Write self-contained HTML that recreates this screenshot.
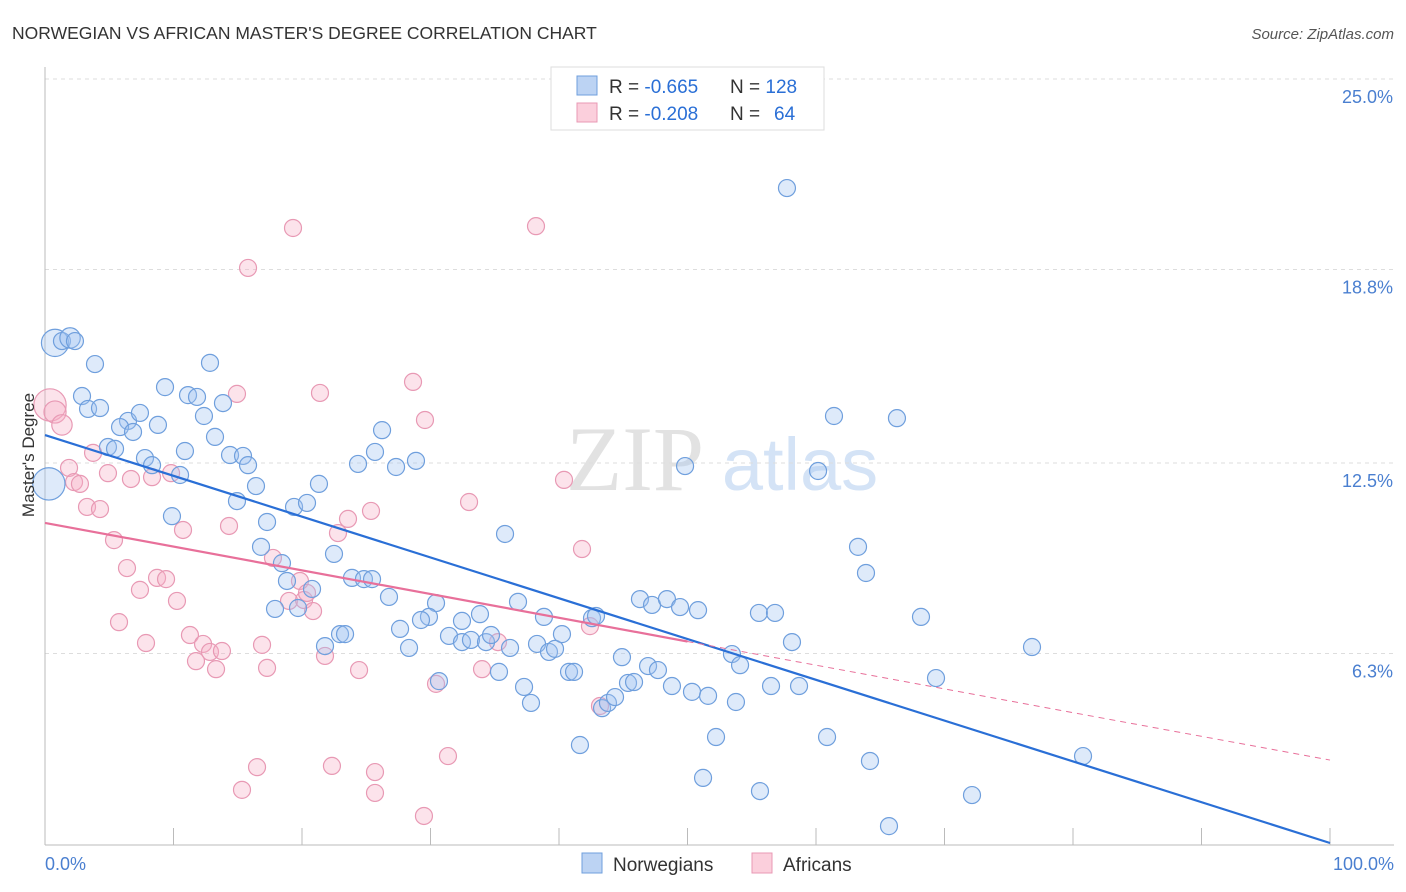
<!DOCTYPE html>
<html><head><meta charset="utf-8"><style>
body{margin:0;background:#fff;font-family:"Liberation Sans",sans-serif}
svg{display:block}
</style></head><body>
<svg id="c" width="1406" height="892" xmlns="http://www.w3.org/2000/svg">
<text x="12" y="39" font-size="17.5" fill="#333">NORWEGIAN VS AFRICAN MASTER'S DEGREE CORRELATION CHART</text>
<text x="1394" y="39" font-size="15" fill="#555" font-style="italic" text-anchor="end">Source: ZipAtlas.com</text>
<g>
<text x="635" y="490" font-size="92" fill="#e2e2e2" font-family="Liberation Serif,serif" text-anchor="middle">ZIP</text>
<text x="800" y="490" font-size="74" fill="#d4e3f6" text-anchor="middle">atlas</text>
</g>
<g id="grid"></g><g id="pts"></g><g id="lines"></g>
<text transform="translate(34,455) rotate(-90)" font-size="17" fill="#333" text-anchor="middle">Master's Degree</text>
<g>
<rect x="551" y="67" width="273" height="63" fill="#fff" stroke="#ddd"/>
<rect x="577" y="76" width="20" height="19" fill="#bcd3f3" stroke="#6f9fdd"/>
<rect x="577" y="103" width="20" height="19" fill="#fbcfdc" stroke="#e899b4"/>
<text x="609" y="93" font-size="19" fill="#333">R = <tspan fill="#2a6fd6">-0.665</tspan><tspan x="730">N = </tspan><tspan fill="#2a6fd6">128</tspan></text>
<text x="609" y="120" font-size="19" fill="#333">R = <tspan fill="#2a6fd6">-0.208</tspan><tspan x="730">N = </tspan><tspan x="774" fill="#2a6fd6">64</tspan></text>
</g>
<g>
<rect x="582" y="853" width="20" height="20" fill="#bcd3f3" stroke="#6f9fdd"/>
<text x="613" y="871" font-size="19" fill="#333">Norwegians</text>
<rect x="752" y="853" width="20" height="20" fill="#fbcfdc" stroke="#e899b4"/>
<text x="783" y="871" font-size="19" fill="#333">Africans</text>
</g>
<text x="45" y="870" font-size="18" fill="#4a7fd0">0.0%</text>
<text x="1394" y="870" font-size="18" fill="#4a7fd0" text-anchor="end">100.0%</text>
</svg>
<script>
const yTicks=[25.0,18.8,12.5,6.3];
const yTickLabels=["25.0%","18.8%","12.5%","6.3%"];
const xTicks=[0,10,20,30,40,50,60,70,80,90,100];
const blueX=[0.78,1.32,1.95,2.33,3.89,12.84,2.88,3.35,4.28,9.34,11.13,11.83,13.85,6.46,7.39,5.84,6.85,8.79,4.90,5.45,7.78,8.33,10.51,10.89,13.23,12.37,14.40,15.41,15.80,16.42,14.94,9.88,17.28,19.38,20.39,21.32,26.23,25.68,24.36,27.32,28.87,16.81,18.44,22.49,18.83,20.78,19.69,17.90,23.89,24.82,25.45,26.77,30.43,29.88,29.26,32.45,33.85,35.80,36.81,38.83,42.57,42.88,46.30,47.24,48.40,49.42,50.82,21.79,22.96,23.35,27.63,28.33,31.44,32.45,33.15,34.32,34.71,36.19,38.29,39.22,39.69,40.23,40.78,41.17,35.33,30.66,37.28,37.82,43.35,43.81,44.36,44.90,45.37,45.84,46.93,47.70,48.79,50.35,51.60,52.22,53.77,53.46,54.09,56.50,58.68,55.56,56.81,58.13,49.81,57.74,61.40,66.30,60.16,63.27,63.89,68.17,76.81,69.34,60.86,64.20,51.21,55.64,41.63,65.68,72.14,80.78,0.3];
const blueY=[16.41,16.47,16.57,16.47,15.72,15.76,14.68,14.26,14.29,14.97,14.71,14.65,14.45,13.87,14.13,13.67,13.51,13.74,13.02,12.96,12.66,12.43,12.11,12.89,13.35,14.03,12.76,12.73,12.43,11.75,11.26,10.77,10.58,11.07,11.20,11.82,13.57,12.86,12.47,12.37,12.57,9.77,9.24,9.54,8.66,8.40,7.78,7.75,8.76,8.72,8.72,8.14,7.94,7.49,7.39,7.36,7.58,10.19,7.98,7.49,7.45,7.52,8.07,7.88,8.07,7.81,7.71,6.54,6.93,6.93,7.10,6.48,6.87,6.67,6.74,6.67,6.90,6.48,6.61,6.35,6.45,6.93,5.70,5.70,5.70,5.40,5.21,4.69,4.52,4.69,4.88,6.18,5.34,5.37,5.89,5.76,5.24,5.05,4.92,3.58,4.72,6.28,5.92,5.24,5.24,7.62,7.62,6.67,12.40,21.45,14.03,13.96,12.24,9.77,8.92,7.49,6.51,5.50,3.58,2.80,2.25,1.82,3.32,0.68,1.69,2.96,11.82];
// relative marker sizes: index -> size (others 1); negative index counts from end
const blueBigIdx=[0,2,-1];
const blueBigSize=[1.6,1.2,1.9];
const pinkX=[0.39,0.78,1.32,1.87,2.26,2.72,3.27,4.28,3.74,4.90,6.69,8.33,9.81,5.37,6.38,7.39,8.72,9.42,10.27,5.76,7.86,11.28,12.30,12.84,13.77,11.75,13.31,10.74,14.32,14.94,15.80,19.30,21.40,16.89,17.28,17.74,18.99,19.84,20.16,20.86,20.39,21.79,22.80,23.58,25.37,24.44,28.64,29.57,33.00,38.21,40.39,41.79,42.41,35.25,34.01,30.43,31.36,29.49,16.50,15.33,22.33,25.68,25.68,43.19];
const pinkY=[14.39,14.16,13.74,12.34,11.88,11.82,11.07,11.00,12.83,12.17,11.98,12.04,12.17,9.99,9.08,8.37,8.76,8.72,8.01,7.32,6.64,6.90,6.61,6.35,6.38,6.05,5.79,10.32,10.45,14.75,18.85,20.15,14.78,6.58,5.83,9.41,8.01,8.66,8.04,7.68,8.27,6.22,10.22,10.68,10.94,5.76,15.14,13.90,11.23,20.21,11.95,9.70,7.19,6.67,5.79,5.31,2.96,1.01,2.60,1.86,2.64,2.44,1.76,4.59];
const pinkBigIdx=[0,1,2];
const pinkBigSize=[1.9,1.3,1.2];
const blueTrend=[13.41,0.13];
const pinkTrend=[10.55,2.83];
const pinkSolidEnd=50;

const NS="http://www.w3.org/2000/svg";
const X0=45,X1=1330,Y0=847,PPU=30.72;
const sx=v=>X0+(X1-X0)*v/100;
const sy=v=>Y0-v*PPU;
function mk(tag,attrs,parent){const e=document.createElementNS(NS,tag);for(const k in attrs)e.setAttribute(k,attrs[k]);parent.appendChild(e);return e;}
const grid=document.getElementById('grid'),pts=document.getElementById('pts'),lines=document.getElementById('lines');
yTicks.forEach((t,i)=>{
 const l=mk('line',{x1:X0,x2:1394,y1:sy(t),y2:sy(t),stroke:'#ddd','stroke-dasharray':'4,4'},grid);
 
 
 const tx=mk('text',{x:1393,y:sy(t)+24,'font-size':18,fill:'#4a7fd0','text-anchor':'end'},grid);
 tx.textContent=yTickLabels[i];
 
 
});
const ax=mk('line',{x1:X0,x2:X0,y1:67,y2:845,stroke:'#bbb'},grid);


const bx=mk('line',{x1:X0,x2:1394,y1:845,y2:845,stroke:'#bbb'},grid);


xTicks.forEach(t=>{
 const l=mk('line',{x1:sx(t),x2:sx(t),y1:828,y2:845,stroke:'#bbb'},grid);
 
 
});
function drawPts(xs,ys,bigIdx,bigSize,fill,stroke,name){
 const norm=bigIdx.map(j=>j<0?xs.length+j:j);
 xs.forEach((x,i)=>{
  const k=norm.indexOf(i);
  const s=k>=0?bigSize[k]:1;
  const c=mk('circle',{cx:sx(x),cy:sy(ys[i]),r:8.5*s,fill:fill,stroke:stroke,'stroke-width':1.2},pts);
  
  
 });
}
drawPts(pinkX,pinkY,pinkBigIdx,pinkBigSize,'rgba(245,175,198,0.35)','#e899b4','africans-point');
drawPts(blueX,blueY,blueBigIdx,blueBigSize,'rgba(160,195,240,0.35)','#6f9fdd','norwegians-point');
const bl=mk('line',{x1:sx(0),y1:sy(blueTrend[0]),x2:sx(100),y2:sy(blueTrend[1]),stroke:'#2a6fd6','stroke-width':2.2},lines);


const pm=pinkTrend[0]+(pinkTrend[1]-pinkTrend[0])*pinkSolidEnd/100;
const pl=mk('line',{x1:sx(0),y1:sy(pinkTrend[0]),x2:sx(pinkSolidEnd),y2:sy(pm),stroke:'#e8709a','stroke-width':2.2},lines);


const pd=mk('line',{x1:sx(pinkSolidEnd),y1:sy(pm),x2:sx(100),y2:sy(pinkTrend[1]),stroke:'#e8709a','stroke-width':1,'stroke-dasharray':'6,5'},lines);


</script>
</body></html>
